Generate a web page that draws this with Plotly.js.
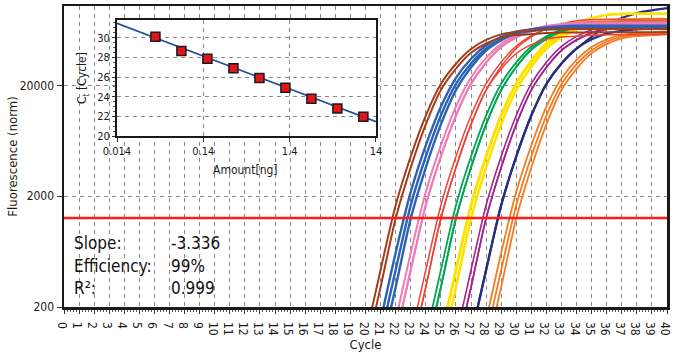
<!DOCTYPE html>
<html>
<head>
<meta charset="utf-8">
<script src="https://cdn.plot.ly/plotly-3.0.1.min.js"></script>
<style>html,body{margin:0;padding:0;background:#fff;}#chart{width:679px;height:358px;}</style>
</head>
<body>
<div id="chart"></div>
<script>
// ---------- Amplification curves (normalised fluorescence per cycle) ----------
const cycles = [19,20,21,22,23,24,25,26,27,28,29,30,31,32,33,34,35,36,37,38,39,40];
const _ = null;
const brownA  = [27,107,432,1660,4571,10715,20654,31460,42760,51560,57940,60980,62720,64190,64500,64600,64600,64700,64700,64800,64800,64900];
const brownB  = [_,76,302,1259,3631,8913,18197,28400,39500,47900,54100,57100,58200,59600,60300,60300,60400,60400,60500,60500,60600,60600];
const blueA   = [_,38,151,617,2188,5754,12882,23490,34880,46140,55030,61280,64120,66050,67600,67600,67700,67700,67800,67800,67900,67900];
const blueB   = [_,27,107,432,1660,4571,10715,20654,31623,43152,52240,58884,62230,64200,65700,66100,66100,66200,66200,66300,66300,66400];
const blueC   = [_,_,76,302,1259,3631,8913,18197,29060,41370,51280,59320,64060,66830,68380,69200,69200,69300,69300,69400,69400,69500];
const pinkA   = [_,_,38,151,617,2188,5754,12882,23620,35470,47490,57310,64530,68330,70760,72400,72500,72500,72600,72600,72700,72700];
const pinkB   = [_,_,27,107,432,1660,4571,10715,20760,32380,45050,55580,63890,68830,72030,73720,74100,74200,74200,74300,74300,74400];
const pinkC   = [_,_,27,107,432,1660,4571,10715,20700,32080,44290,54250,61830,66150,68820,70430,70800,70900,70900,71000,71000,71100];
const redA    = [_,_,_,27,107,432,1660,4571,10715,20780,32540,45440,56310,64950,70200,73700,75420,75800,75900,75900,76000,76000];
const redB    = [_,_,_,_,76,302,1259,3631,8913,18197,29730,43300,54930,65030,71900,76720,78510,79400,79500,79500,79600,79600];
const redC    = [_,_,_,_,76,302,1259,3631,8913,18197,28180,38900,46760,52480,54940,55590,56890,57500,57600,57600,57700,57700];
const greenA  = [_,_,_,_,27,107,432,1660,4571,10715,20760,32380,45050,55580,63890,68830,72030,73720,74100,74200,74200,74300];
const greenB  = [_,_,_,_,_,76,302,1259,3631,8913,18197,29510,42650,53700,63070,69180,73270,74980,75800,75900,75900,76000];
const greenC  = [_,_,_,_,_,76,302,1259,3631,8913,18197,29280,42000,52470,61170,66530,69950,71580,72400,72500,72500,72600];
const yellowA = [_,_,_,_,_,27,107,432,1660,4571,10715,20910,33650,48290,61430,72780,80840,86610,88630,89100,89200,89300];
const yellowB = [_,_,_,_,_,27,107,432,1660,4571,10715,20820,32860,46220,57730,67070,73120,77170,78970,79400,79500,79500];
const yellowC = [_,_,_,_,_,_,76,302,1259,3631,8913,18197,29620,42980,54330,64100,70540,75000,76740,77600,77700,77700];
const purpleA = [_,_,_,_,_,_,27,107,432,1660,4571,10715,20760,32380,45050,55580,63890,68830,72030,73720,74100,74200];
const purpleB = [_,_,_,_,_,_,_,76,302,1259,3631,8913,18197,29180,41690,51890,60280,65360,68420,70020,70830,70900];
const purpleC = [_,_,_,_,_,_,_,76,302,1259,3631,8913,18197,29060,41370,51280,59320,64060,66830,68380,69170,69200];
const navyA   = [_,_,_,_,_,_,_,27,107,432,1660,4571,10715,20654,31623,43000,55000,69200,81300,90200,95500,100000];
const navyB   = [_,_,_,_,_,_,_,27,107,432,1660,4571,10715,20654,31623,43152,52240,58884,62230,64200,65700,66100];
const orangeA = [_,_,_,_,_,_,_,_,38,151,617,2188,5754,12882,23300,34080,44430,52150,57180,58970,60240,61640];
const orangeB = [_,_,_,_,_,_,_,_,27,107,432,1660,4571,10715,20570,31020,41690,49680,55170,57440,58550,59920];
const orangeC = [_,_,_,_,_,_,_,_,_,76,302,1259,3631,8913,18197,28290,39190,47310,53290,55990,56870,58190];

const threshold = 1270;

// ---------- Standard curve (inset) ----------
const amounts = [0.039, 0.078, 0.156, 0.3125, 0.625, 1.25, 2.5, 5, 10];
const ctValues = [30.1, 28.65, 27.85, 26.9, 25.9, 24.9, 23.8, 22.8, 21.95];
const fitSlope = -3.336;
const fitIntercept = 25.28;
const fitAmounts = [0.014, 14];

const statLabels = ['Slope:', 'Efficiency:', 'R\u00b2:'];
const statValues = ['-3.336', '99%', '0.999'];

const xTickVals = [0,1,2,3,4,5,6,7,8,9,10,11,12,13,14,15,16,17,18,19,20,21,22,23,24,25,26,27,28,29,30,31,32,33,34,35,36,37,38,39,40];
const xTickText = xTickVals.map(String);
const yTickVals = [200, 2000, 20000];
const yTickText = ['200', '2000', '20000'];
const insetXTicks = [0.014, 0.14, 1.4, 14];
const insetXTickText = ['0.014', '0.14', '1.4', '14'];

// ---------- styling ----------
const FONT = 'Liberation Sans Narrow, Arial Narrow, DejaVu Sans Condensed, sans-serif';
const curveSets = [
  {series: [orangeA, orangeB, orangeC], color: '#f47b20', width: 1.8},
  {series: [navyA, navyB], color: '#262f7e', width: 2.2},
  {series: [purpleA, purpleB, purpleC], color: '#a3238e', width: 1.6},
  {series: [yellowA, yellowB, yellowC], color: '#ffe100', width: 2.6},
  {series: [greenA, greenB, greenC], color: '#00a651', width: 1.8},
  {series: [redA, redB, redC], color: '#ef4136', width: 1.5},
  {series: [pinkA, pinkB, pinkC], color: '#ee7bb4', width: 2.0},
  {series: [blueA, blueB, blueC], color: '#2b62b3', width: 2.4},
  {series: [brownA, brownB], color: '#a23d1c', width: 2.0}
];

const traces = [];
curveSets.forEach(set => {
  set.series.forEach(vals => {
    traces.push({
      type: 'scatter', mode: 'lines', x: cycles, y: vals,
      line: {color: set.color, width: set.width, shape: 'spline', smoothing: 0.8},
      hoverinfo: 'skip', xaxis: 'x', yaxis: 'y'
    });
  });
});

// regression line in inset
traces.push({
  type: 'scatter', mode: 'lines', x: fitAmounts,
  y: fitAmounts.map(a => fitIntercept + fitSlope * Math.log10(a)),
  line: {color: '#1f4e9e', width: 1.6}, xaxis: 'x2', yaxis: 'y2', hoverinfo: 'skip'
});
traces.push({
  type: 'scatter', mode: 'markers', x: amounts, y: ctValues,
  marker: {symbol: 'square', size: 9, color: '#e3141b', line: {color: '#1a1a1a', width: 1.5}},
  xaxis: 'x2', yaxis: 'y2', hoverinfo: 'skip'
});

const annotations = [];
const rowY = [0.214, 0.137, 0.062];
statLabels.forEach((t, i) => {
  annotations.push({xref: 'paper', yref: 'paper', x: 0.013, y: rowY[i], xanchor: 'left', yanchor: 'middle',
    text: t, showarrow: false, font: {family: FONT, size: 17, color: '#111'}});
  annotations.push({xref: 'paper', yref: 'paper', x: 0.174, y: rowY[i], xanchor: 'left', yanchor: 'middle',
    text: statValues[i], showarrow: false, font: {family: FONT, size: 17, color: '#111'}});
});
// axis titles placed as annotations for exact positioning
annotations.push({xref: 'paper', yref: 'paper', x: -0.086, y: 0.5, xanchor: 'center', yanchor: 'middle',
  textangle: -90, text: 'Fluorescence (norm)', showarrow: false, font: {family: FONT, size: 13, color: '#1a1a1a'}});
annotations.push({xref: 'paper', yref: 'paper', x: 0.0315, y: 0.761, xanchor: 'center', yanchor: 'middle',
  textangle: -90, text: 'C<sub>t</sub> [Cycle]', showarrow: false, font: {family: FONT, size: 12, color: '#1a1a1a'}});
annotations.push({xref: 'paper', yref: 'paper', x: 0.3018, y: 0.455, xanchor: 'center', yanchor: 'middle',
  text: 'Amount[ng]', showarrow: false, font: {family: FONT, size: 12, color: '#1a1a1a'}});

const layout = {
  width: 679, height: 358,
  margin: {l: 64, r: 12, t: 6, b: 51},
  paper_bgcolor: '#ffffff', plot_bgcolor: '#ffffff',
  showlegend: false,
  font: {family: FONT, color: '#222'},
  xaxis: {
    range: [0, 40], tickmode: 'array', tickvals: xTickVals, ticktext: xTickText,
    showgrid: true, gridcolor: '#8a8a8a', griddash: '4px,4px', gridwidth: 1,
    showline: true, mirror: true, linecolor: '#1a1a1a', linewidth: 2.5,
    ticks: 'outside', ticklen: 4, tickcolor: '#333', tickwidth: 1,
    minor: {dtick: 0.2, tick0: 0, ticks: 'outside', ticklen: 2, tickcolor: '#555', showgrid: false},
    tickfont: {family: FONT, size: 12, color: '#1a1a1a'},
    title: {text: 'Cycle', font: {family: FONT, size: 13, color: '#1a1a1a'}, standoff: 5},
    zeroline: false, fixedrange: true
  },
  yaxis: {
    type: 'log', range: [Math.log10(200), 5.019],
    tickmode: 'array', tickvals: yTickVals, ticktext: yTickText,
    showgrid: true, gridcolor: '#8a8a8a', griddash: '4px,4px', gridwidth: 1,
    showline: true, mirror: true, linecolor: '#1a1a1a', linewidth: 2.5,
    ticks: 'outside', ticklen: 5, tickcolor: '#333',
    tickfont: {family: FONT, size: 12, color: '#1a1a1a'},
    zeroline: false
  },
  xaxis2: {
    type: 'log', domain: [0.0879, 0.5174], anchor: 'y2',
    range: [Math.log10(0.014), Math.log10(14)],
    tickmode: 'array', tickvals: insetXTicks, ticktext: insetXTickText,
    showgrid: true, gridcolor: '#8a8a8a', griddash: '4px,4px', gridwidth: 1,
    showline: true, mirror: true, linecolor: '#1a1a1a', linewidth: 2,
    ticks: 'outside', ticklen: 4, tickcolor: '#333',
    tickfont: {family: FONT, size: 11, color: '#1a1a1a'},
    zeroline: false
  },
  yaxis2: {
    domain: [0.568, 0.9535], anchor: 'x2', range: [20, 31.8],
    dtick: 2, tick0: 20,
    showgrid: true, gridcolor: '#8a8a8a', griddash: '4px,4px', gridwidth: 1,
    showline: true, mirror: true, linecolor: '#1a1a1a', linewidth: 2,
    ticks: 'outside', ticklen: 3, tickcolor: '#333',
    minor: {dtick: 0.5, ticks: 'outside', ticklen: 2, tickcolor: '#555', showgrid: false},
    tickfont: {family: FONT, size: 11, color: '#1a1a1a'},
    zeroline: false
  },
  shapes: [{
    type: 'line', xref: 'x domain', yref: 'y', x0: 0, x1: 1, y0: threshold, y1: threshold,
    line: {color: '#ff1a1a', width: 2.5}, layer: 'above'
  }],
  annotations: annotations
};

Plotly.newPlot('chart', traces, layout, {staticPlot: true, displayModeBar: false});
</script>
</body>
</html>
